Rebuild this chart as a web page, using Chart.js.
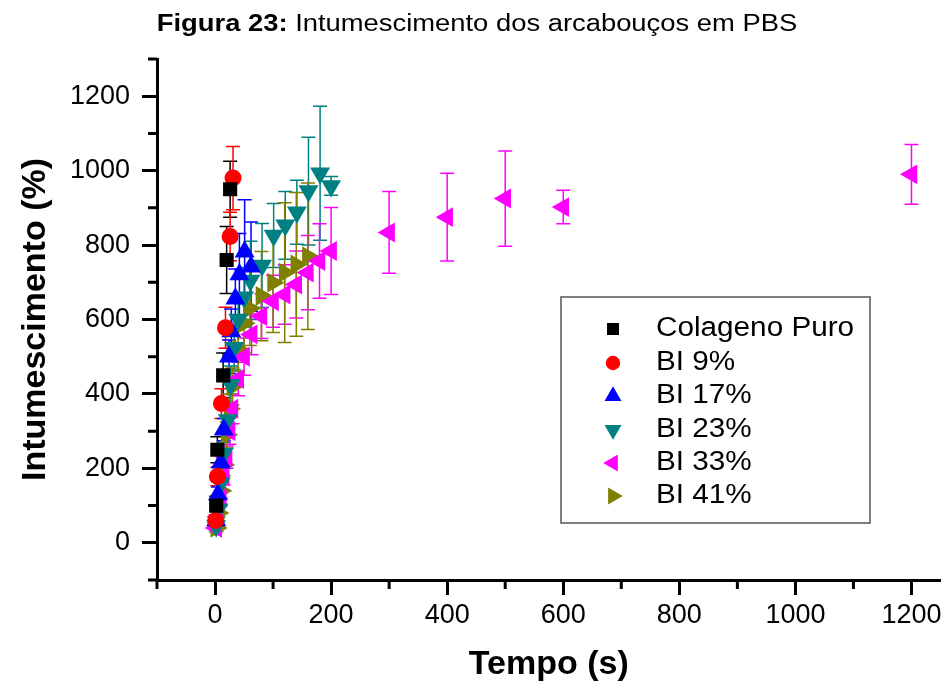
<!DOCTYPE html>
<html>
<head>
<meta charset="utf-8">
<script src="https://cdn.jsdelivr.net/npm/chart.js@4.4.1/dist/chart.umd.min.js"></script>
<style>
  html, body { margin: 0; padding: 0; background: #fff; }
  #wrap { position: relative; width: 952px; height: 691px; }
  #titulo {
    position: absolute; left: 0; top: 12px; width: 952px; text-align: center;
    font-family: "Liberation Sans", Arial, sans-serif; font-size: 23px; line-height: 23px; color: #000;
    transform: scaleX(1.19); transform-origin: 471px 0;
  }
  canvas { position: absolute; left: 0; top: 0; }
</style>
</head>
<body>
<div id="wrap">
  <canvas id="grafico" width="952" height="691"></canvas>
  <div id="titulo"><b>Figura 23:</b> Intumescimento dos arcabouços em PBS</div>
</div>
<script>
// dados (tempo em s, intumescimento em %)
const rotulos = ["Colageno Puro", "BI 9%", "BI 17%", "BI 23%", "BI 33%", "BI 41%"];

const colagenoX = [2, 4, 14, 20, 26];
const colagenoY = [100, 250, 450, 760, 950];
const colagenoErr = [25, 35, 60, 90, 75];

const bi9X = [1, 4, 11, 18, 26, 31];
const bi9Y = [60, 178, 374, 578, 823, 980];
const bi9Err = [15, 25, 40, 55, 65, 85];

const bi17X = [2, 5, 10, 15, 24, 28, 35, 42, 51, 62];
const bi17Y = [60, 130, 215, 304, 500, 568, 656, 721, 782, 742];
const bi17Err = [15, 20, 25, 30, 45, 60, 80, 110, 140, 120];

const bi23X = [2, 6, 10, 15, 22, 27, 33, 40, 50, 61, 81, 101, 121, 141, 161, 181, 200];
const bi23Y = [45, 90, 160, 240, 330, 425, 524, 600, 660, 705, 745, 826, 853, 888, 945, 993, 959];
const bi23Err = [15, 20, 25, 30, 40, 50, 60, 70, 80, 105, 113, 86, 91, 86, 145, 180, 25];

const bi33X = [2, 5, 10, 15, 20, 25, 30, 40, 50, 63, 80, 100, 120, 140, 160, 180, 200, 300, 400, 500, 600, 1200];
const bi33Y = [40, 70, 120, 180, 230, 300, 360, 440, 500, 560, 609, 649, 667, 694, 726, 757, 784, 834, 875, 925, 902, 990];
const bi33Err = [10, 15, 20, 25, 30, 35, 40, 45, 50, 55, 60, 70, 80, 90, 100, 100, 117, 110, 118, 128, 45, 80];

const bi41X = [2, 5, 10, 15, 20, 25, 30, 40, 50, 60, 80, 100, 120, 140, 160];
const bi41Y = [40, 80, 140, 210, 290, 360, 420, 520, 590, 630, 663, 699, 726, 748, 770];
const bi41Err = [10, 15, 20, 30, 35, 40, 50, 60, 80, 100, 120, 134, 188, 193, 197];

const xTicks = [0, 200, 400, 600, 800, 1000, 1200];
const yTicks = [0, 200, 400, 600, 800, 1000, 1200];
const xMinor = [-100, 100, 300, 500, 700, 900, 1100];
const yMinor = [-100, 100, 300, 500, 700, 900, 1100, 1300];

const cores = ["#000000", "#FF0000", "#0000FF", "#008080", "#FF00FF", "#808000"];
const estilos = ["rect", "circle", "triangle", "triangle", "triangle", "triangle"];
const rotacoes = [0, 0, 0, 180, 270, 90];
const raios = [10, 8.5, 11.5, 11.5, 11.5, 11.5];

const seriesX = [colagenoX, bi9X, bi17X, bi23X, bi33X, bi41X];
const seriesY = [colagenoY, bi9Y, bi17Y, bi23Y, bi33Y, bi41Y];
const seriesErr = [colagenoErr, bi9Err, bi17Err, bi23Err, bi33Err, bi41Err];

const fonte = '"Liberation Sans", Arial, sans-serif';

const datasets = rotulos.map((r, i) => ({
  label: r,
  data: seriesX[i].map((x, j) => ({ x: x, y: seriesY[i][j] })),
  erros: seriesErr[i],
  backgroundColor: cores[i],
  borderColor: cores[i],
  borderWidth: 0,
  pointStyle: estilos[i],
  pointRotation: rotacoes[i],
  pointRadius: raios[i],
  pointHoverRadius: raios[i],
  showLine: false
}));

// barras de erro
const barrasErro = {
  id: "barrasErro",
  beforeDatasetsDraw(chart) {
    const { ctx, scales: { x, y } } = chart;
    chart.data.datasets.forEach(ds => {
      ctx.save();
      ctx.strokeStyle = ds.borderColor;
      ctx.lineWidth = 1.5;
      ds.data.forEach((p, j) => {
        const e = ds.erros[j];
        const px = x.getPixelForValue(p.x);
        const t = y.getPixelForValue(p.y + e);
        const b = y.getPixelForValue(p.y - e);
        ctx.beginPath();
        ctx.moveTo(px, t); ctx.lineTo(px, b);
        ctx.moveTo(px - 7, t); ctx.lineTo(px + 7, t);
        ctx.moveTo(px - 7, b); ctx.lineTo(px + 7, b);
        ctx.stroke();
      });
      ctx.restore();
    });
  }
};

// ticks menores nos eixos
const ticksMenores = {
  id: "ticksMenores",
  afterDraw(chart) {
    const { ctx, scales: { x, y }, chartArea } = chart;
    ctx.save();
    ctx.strokeStyle = "#000";
    ctx.lineWidth = 3;
    ctx.beginPath();
    xMinor.forEach(v => {
      const px = x.getPixelForValue(v);
      ctx.moveTo(px, chartArea.bottom); ctx.lineTo(px, chartArea.bottom + 9);
    });
    yMinor.forEach(v => {
      const py = y.getPixelForValue(v);
      ctx.moveTo(chartArea.left, py); ctx.lineTo(chartArea.left - 9, py);
    });
    ctx.stroke();
    ctx.restore();
  }
};

// legenda dentro do gráfico
const legendaCaixa = {
  id: "legendaCaixa",
  afterDraw(chart) {
    const ctx = chart.ctx;
    ctx.save();
    ctx.strokeStyle = "#555";
    ctx.lineWidth = 1.5;
    ctx.strokeRect(561, 297, 309, 226);
    const linhas = [329, 363, 396, 430, 463, 496];
    ctx.font = "27px " + fonte;
    ctx.textBaseline = "middle";
    chart.data.datasets.forEach((ds, i) => {
      ctx.fillStyle = ds.backgroundColor;
      Chart.helpers.drawPoint(ctx, {
        pointStyle: ds.pointStyle,
        rotation: ds.pointRotation,
        radius: ds.pointRadius * 0.85,
        borderWidth: 0
      }, 613, linhas[i]);
      ctx.fillStyle = "#000";
      ctx.save();
      ctx.translate(656, linhas[i]);
      ctx.scale(1.1, 1);
      ctx.fillText(ds.label, 0, 0);
      ctx.restore();
    });
    ctx.restore();
  }
};

new Chart(document.getElementById("grafico"), {
  type: "scatter",
  data: { datasets: datasets },
  plugins: [barrasErro, ticksMenores, legendaCaixa],
  options: {
    responsive: false,
    animation: false,
    layout: { padding: { top: 59, right: 7, left: 0, bottom: 0 } },
    plugins: { legend: { display: false }, tooltip: { enabled: false } },
    scales: {
      x: {
        type: "linear",
        min: -100, max: 1250,
        afterBuildTicks: s => { s.ticks = xTicks.map(v => ({ value: v })); },
        afterFit: s => { s.height = 111; },
        ticks: { color: "#000", font: { family: fonte, size: 27 }, padding: 4, callback: v => String(v) },
        grid: { drawOnChartArea: false, drawTicks: true, tickLength: 15, tickColor: "#000", tickWidth: 3 },
        border: { display: true, color: "#000", width: 3 },
        title: { display: true, text: "Tempo (s)", color: "#000", font: { family: fonte, size: 34, weight: "bold" }, padding: { top: 0, bottom: 6 } }
      },
      y: {
        type: "linear",
        min: -100, max: 1300,
        afterBuildTicks: s => { s.ticks = yTicks.map(v => ({ value: v })); },
        afterFit: s => { s.width = 157; },
        ticks: { color: "#000", font: { family: fonte, size: 27 }, padding: 12, callback: v => String(v) },
        grid: { drawOnChartArea: false, drawTicks: true, tickLength: 15, tickColor: "#000", tickWidth: 3 },
        border: { display: true, color: "#000", width: 3 },
        title: { display: true, text: "Intumescimento (%)", color: "#000", font: { family: fonte, size: 34, weight: "bold" }, padding: { top: 15, bottom: 0 } }
      }
    }
  }
});
</script>
</body>
</html>
